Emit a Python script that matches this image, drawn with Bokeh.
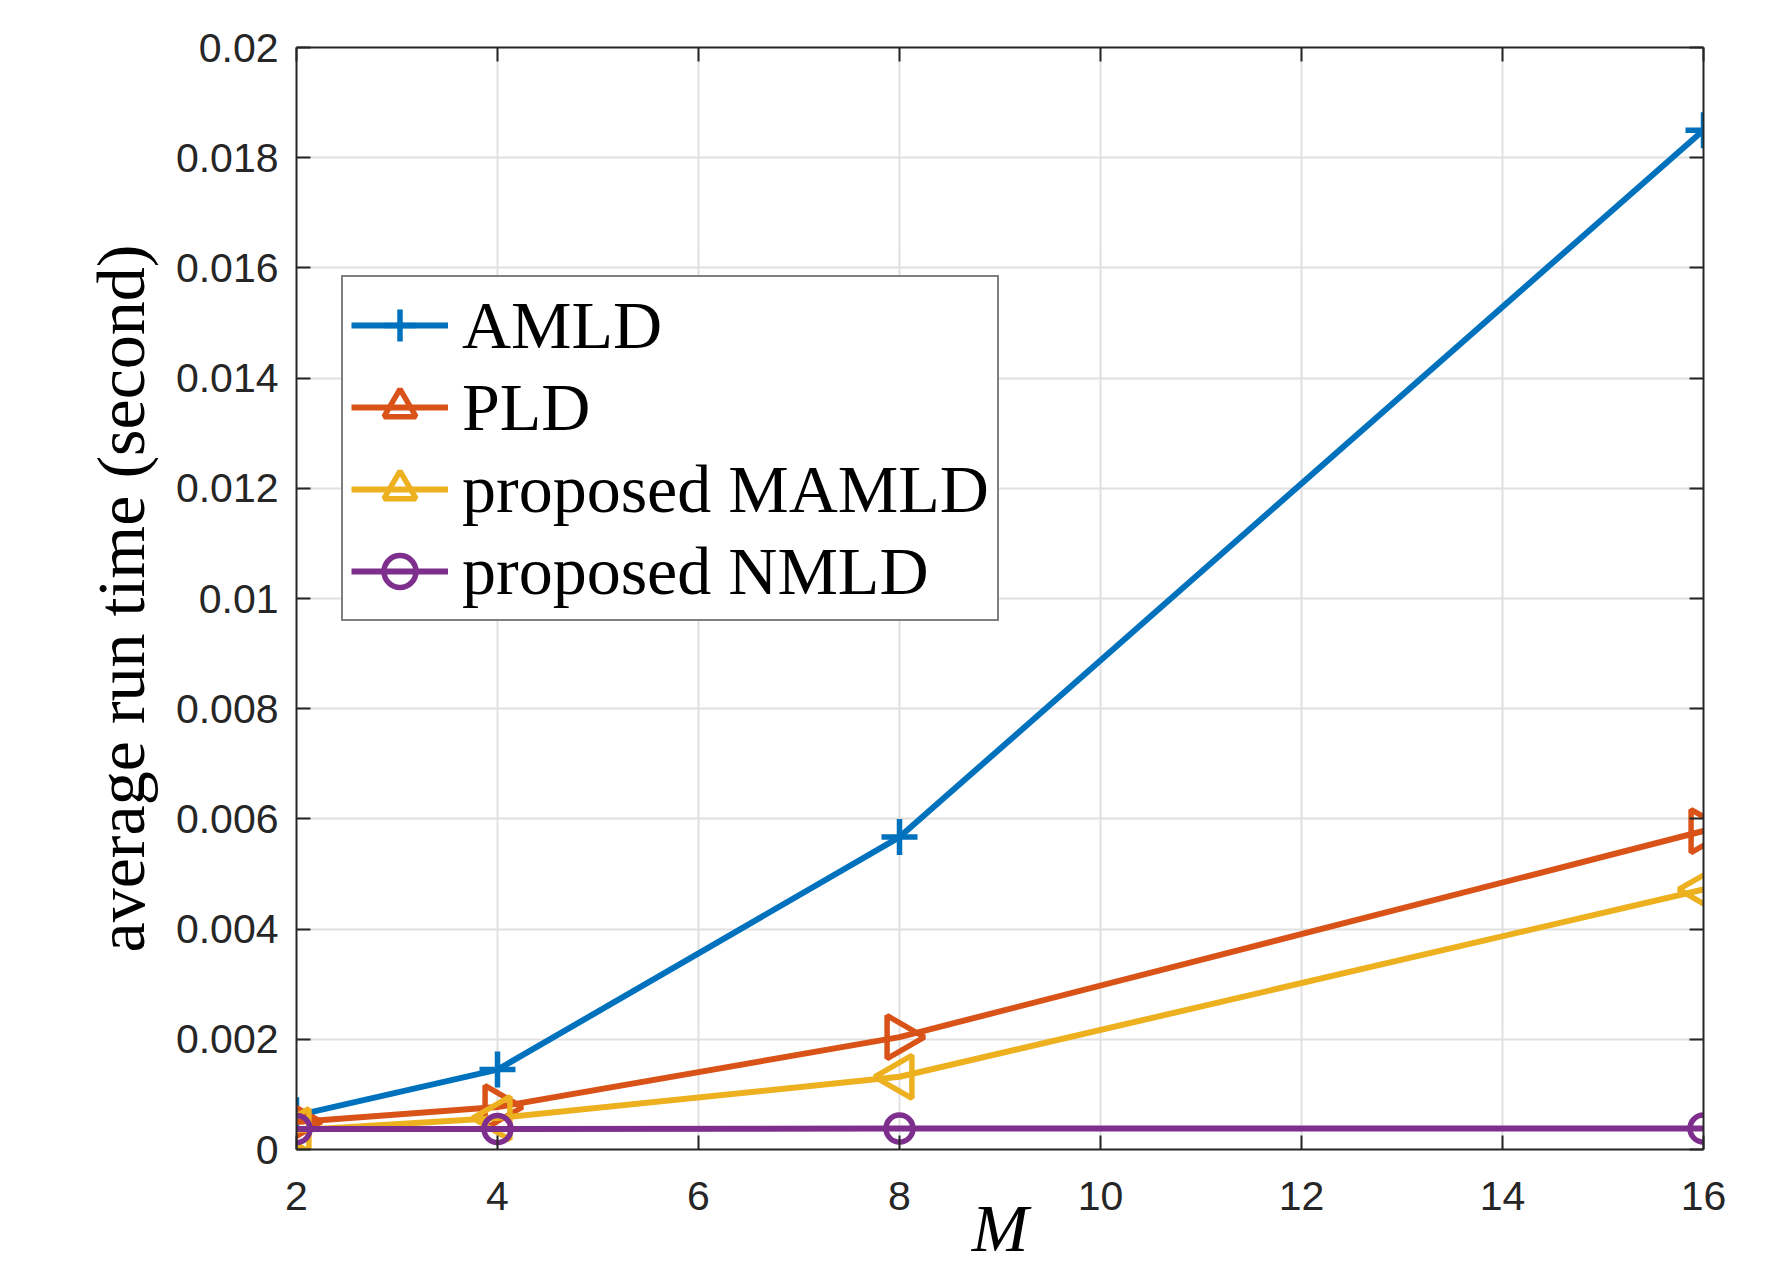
import math
from bokeh.plotting import figure
from bokeh.models import (FixedTicker, LinearAxis, Legend, LegendItem, Range1d)
from bokeh.embed import file_html
from bokeh.resources import INLINE

# ---- data ----
M_VALUES = [2, 4, 8, 16]
AMLD = [0.00062, 0.00145, 0.00567, 0.0185]
PLD = [0.00050, 0.00077, 0.00204, 0.00578]
MAMLD = [0.00035, 0.00057, 0.00132, 0.00472]
NMLD = [0.00037, 0.00037, 0.00038, 0.00038]

SERIES_NAMES = ["AMLD", "PLD", "proposed MAMLD", "proposed NMLD"]
X_TICKS = [2, 4, 6, 8, 10, 12, 14, 16]
Y_TICKS = [0, 0.002, 0.004, 0.006, 0.008, 0.01, 0.012, 0.014, 0.016, 0.018, 0.02]
Y_TICK_LABELS = ["0", "0.002", "0.004", "0.006", "0.008", "0.01", "0.012",
                 "0.014", "0.016", "0.018", "0.02"]
X_LABEL = "M"
Y_LABEL = "average run time (second)"

COLORS = ["#0072BD", "#D95319", "#EDB120", "#7E2F8E"]
AXIS_COLOR = "#262626"
GRID_COLOR = "#e0e0e0"
TICK_FONT = "Liberation Sans"
SERIF = "Liberation Serif"

p = figure(width=1772, height=1269, output_backend="svg", toolbar_location=None,
           x_range=Range1d(2, 16), y_range=Range1d(0, 0.02),
           min_border_left=296, min_border_right=69, min_border_top=47,
           min_border_bottom=120)
p.outline_line_color = None
p.background_fill_color = "white"
p.border_fill_color = "white"

xt = FixedTicker(ticks=X_TICKS)
yt = FixedTicker(ticks=Y_TICKS)

for ax, t in ((p.xaxis[0], xt), (p.yaxis[0], yt)):
    ax.ticker = t
    ax.axis_line_color = AXIS_COLOR
    ax.axis_line_width = 2
    ax.major_tick_line_color = AXIS_COLOR
    ax.major_tick_line_width = 2
    ax.major_tick_in = 14
    ax.major_tick_out = 0
    ax.minor_tick_line_color = None
    ax.major_label_text_font = TICK_FONT
    ax.major_label_text_font_size = "41px"
    ax.major_label_text_color = AXIS_COLOR

p.xaxis[0].major_label_standoff = 32
p.yaxis[0].major_label_standoff = 18
p.yaxis[0].major_label_overrides = {v: s for v, s in zip(Y_TICKS, Y_TICK_LABELS)}

p.yaxis[0].axis_label = Y_LABEL
p.yaxis[0].axis_label_text_font = SERIF
p.yaxis[0].axis_label_text_font_size = "68px"
p.yaxis[0].axis_label_text_font_style = "normal"
p.yaxis[0].axis_label_text_color = "black"
p.yaxis[0].axis_label_standoff = 14

p.xaxis[0].axis_label = X_LABEL
p.xaxis[0].axis_label_text_font = SERIF
p.xaxis[0].axis_label_text_font_size = "68px"
p.xaxis[0].axis_label_text_font_style = "italic"
p.xaxis[0].axis_label_text_color = "black"
p.xaxis[0].axis_label_standoff = -23

for loc, t in (("right", yt), ("above", xt)):
    ax = LinearAxis(ticker=t, axis_line_color=AXIS_COLOR, axis_line_width=2,
                    major_tick_line_color=AXIS_COLOR, major_tick_line_width=2,
                    major_tick_in=14, major_tick_out=0, minor_tick_line_color=None,
                    major_label_text_color=None, major_label_text_font_size="6px",
                    major_label_standoff=0)
    p.add_layout(ax, loc)

p.xgrid.ticker = xt
p.ygrid.ticker = yt
p.xgrid.grid_line_color = GRID_COLOR
p.ygrid.grid_line_color = GRID_COLOR
p.xgrid.grid_line_width = 2
p.ygrid.grid_line_width = 2

series = [AMLD, PLD, MAMLD, NMLD]
markers = [("cross", 0.0, 36), ("triangle", -math.pi / 2, 43),
           ("triangle", math.pi / 2, 43), ("circle", 0.0, 27)]

items = []
for name, vals, col, (mk, ang, sz) in zip(SERIES_NAMES, series, COLORS, markers):
    ln = p.line(M_VALUES, vals, line_color=col, line_width=6)
    sc = p.scatter(M_VALUES, vals, marker=mk, angle=ang, size=sz,
                   line_color=col, line_width=5.5, fill_color=None)
    items.append(LegendItem(label=name, renderers=[ln, sc]))

legend = Legend(items=items, location=(45, 528), orientation="vertical",
                label_text_font=SERIF, label_text_font_size="68px",
                label_text_color="black", glyph_width=97, glyph_height=80,
                label_height=80, label_standoff=14, padding=8, spacing=2,
                margin=0, border_line_color="black", border_line_width=2,
                background_fill_color="white", background_fill_alpha=1.0)
p.add_layout(legend, "center")

open("out.html", "w").write(file_html(p, INLINE))
